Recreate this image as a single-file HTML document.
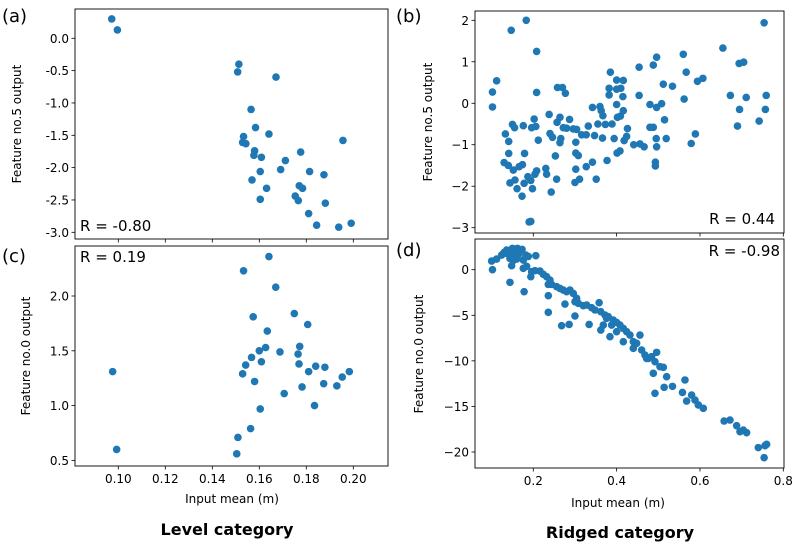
<!DOCTYPE html>
<html><head><meta charset="utf-8"><style>
body{margin:0;background:#fff;width:800px;height:548px;overflow:hidden}
svg{display:block}
text{font-family:"DejaVu Sans","Liberation Sans",sans-serif;fill:#000}
</style></head><body>
<svg id="fig" width="800" height="548" viewBox="0 0 800 548"></svg>
<script>
// Panel (a): Level category, feature 5
const aX=[0.0972,0.0996,0.1513,0.1508,0.1671,0.1565,0.1584,0.1533,0.1529,0.1543,0.1641,0.1580,0.1577,0.1609,0.1711,0.1776,0.1691,0.1604,0.1569,0.1631,0.1814,0.1875,0.1770,0.1784,0.1753,0.1766,0.1604,0.1956,0.1881,0.1810,0.1844,0.1938,0.1991];
const aY=[0.30,0.13,-0.40,-0.52,-0.60,-1.10,-1.38,-1.52,-1.61,-1.63,-1.48,-1.74,-1.81,-1.84,-1.89,-1.76,-2.03,-2.06,-2.19,-2.32,-2.06,-2.11,-2.28,-2.32,-2.44,-2.51,-2.49,-1.58,-2.55,-2.71,-2.89,-2.92,-2.86];
// Panel (c): Level category, feature 0
const cX=[0.1641,0.1533,0.1670,0.1574,0.1749,0.1806,0.1634,0.1772,0.1765,0.1600,0.1627,0.1688,0.1567,0.1609,0.1542,0.1769,0.1840,0.1879,0.1810,0.1983,0.1953,0.1529,0.0976,0.1580,0.1874,0.1930,0.1782,0.1706,0.1835,0.1604,0.1563,0.1509,0.0993,0.1504];
const cY=[2.36,2.23,2.08,1.81,1.84,1.74,1.68,1.54,1.47,1.50,1.53,1.49,1.44,1.40,1.37,1.38,1.36,1.35,1.31,1.31,1.26,1.29,1.31,1.22,1.20,1.18,1.17,1.11,1.00,0.97,0.79,0.71,0.60,0.56];
// Panel (b): Ridged category, feature 5
const bX=[0.183,0.147,0.754,0.208,0.655,0.560,0.496,0.488,0.454,0.385,0.567,0.694,0.705,0.112,0.102,0.208,0.258,0.270,0.277,0.400,0.416,0.382,0.400,0.410,0.382,0.415,0.512,0.534,0.594,0.607,0.454,0.562,0.673,0.711,0.759,0.102,0.400,0.342,0.360,0.363,0.367,0.416,0.409,0.402,0.480,0.496,0.508,0.695,0.757,0.690,0.742,0.238,0.264,0.287,0.202,0.206,0.196,0.176,0.150,0.155,0.257,0.272,0.280,0.296,0.304,0.332,0.355,0.373,0.389,0.426,0.480,0.488,0.515,0.133,0.141,0.212,0.240,0.246,0.266,0.264,0.302,0.316,0.327,0.347,0.366,0.394,0.418,0.424,0.441,0.456,0.466,0.495,0.496,0.519,0.589,0.579,0.141,0.179,0.253,0.302,0.308,0.401,0.408,0.377,0.342,0.327,0.302,0.130,0.140,0.152,0.174,0.166,0.208,0.204,0.230,0.232,0.493,0.493,0.187,0.194,0.256,0.311,0.300,0.351,0.144,0.156,0.161,0.178,0.198,0.173,0.243,0.194,0.190];
const bY=[2.00,1.76,1.94,1.25,1.33,1.18,1.11,0.92,0.87,0.75,0.75,0.96,0.99,0.54,0.27,0.26,0.38,0.38,0.24,0.56,0.55,0.36,0.34,0.36,0.20,0.16,0.46,0.41,0.53,0.60,0.19,0.10,0.19,0.14,0.19,-0.09,-0.03,-0.10,-0.08,-0.18,-0.30,-0.18,-0.31,-0.34,-0.03,-0.10,-0.01,-0.15,-0.15,-0.55,-0.43,-0.27,-0.34,-0.39,-0.38,-0.56,-0.59,-0.54,-0.51,-0.59,-0.46,-0.59,-0.60,-0.62,-0.63,-0.55,-0.50,-0.51,-0.50,-0.61,-0.58,-0.58,-0.40,-0.74,-0.92,-0.89,-0.73,-0.82,-0.85,-0.95,-0.94,-0.76,-0.76,-0.78,-0.84,-0.85,-0.90,-0.80,-1.00,-0.98,-1.05,-0.85,-1.05,-0.85,-0.74,-0.97,-1.21,-1.21,-1.27,-1.20,-1.26,-1.20,-1.15,-1.38,-1.42,-1.53,-1.59,-1.43,-1.50,-1.61,-1.48,-1.53,-1.63,-1.71,-1.57,-1.71,-1.42,-1.51,-1.77,-1.86,-1.83,-1.83,-1.91,-1.83,-1.92,-1.85,-2.06,-1.93,-2.06,-2.24,-2.14,-2.85,-2.86];
// Panel (d): Ridged category, feature 0
const dX=[0.100,0.102,0.112,0.124,0.130,0.136,0.142,0.150,0.156,0.162,0.168,0.173,0.144,0.152,0.160,0.176,0.188,0.206,0.148,0.176,0.184,0.194,0.196,0.204,0.216,0.224,0.232,0.240,0.236,0.244,0.256,0.264,0.272,0.280,0.288,0.296,0.304,0.300,0.308,0.320,0.328,0.340,0.348,0.358,0.362,0.372,0.380,0.392,0.400,0.408,0.416,0.424,0.432,0.440,0.448,0.456,0.460,0.468,0.476,0.484,0.496,0.492,0.504,0.512,0.520,0.488,0.514,0.534,0.492,0.564,0.558,0.568,0.580,0.588,0.596,0.608,0.658,0.672,0.688,0.696,0.704,0.712,0.740,0.756,0.760,0.754,0.144,0.178,0.236,0.276,0.236,0.268,0.286,0.300,0.334,0.362,0.384,0.416,0.440,0.472,0.136,0.152,0.164,0.182,0.376,0.388,0.400,0.368];
const dY=[0.95,0.00,1.17,1.61,1.90,1.79,2.08,2.34,2.16,2.34,2.08,2.23,1.24,1.02,1.17,1.06,1.46,1.54,0.44,0.15,0.37,-0.77,-0.22,-0.11,-0.15,-0.51,-0.77,-1.13,-1.61,-1.61,-1.86,-2.05,-2.23,-2.41,-2.23,-2.60,-3.14,-3.51,-3.69,-3.95,-3.88,-4.17,-4.42,-3.62,-4.61,-4.97,-5.16,-5.52,-5.78,-6.07,-6.44,-6.80,-7.17,-7.90,-8.08,-7.17,-8.81,-9.36,-9.73,-9.54,-9.07,-10.09,-10.64,-10.71,-11.74,-11.37,-12.91,-12.80,-13.56,-12.10,-13.46,-14.41,-13.75,-14.30,-14.84,-15.21,-16.60,-16.49,-17.11,-17.77,-17.59,-17.88,-19.52,-19.31,-19.16,-20.62,-1.39,-2.41,-2.85,-3.77,-4.68,-6.14,-6.00,-5.08,-6.00,-6.62,-7.35,-7.90,-8.63,-9.73,2.16,1.79,1.68,1.61,-5.34,-6.07,-6.80,-6.07];
// Tick values
const levelXTicks=[0.10,0.12,0.14,0.16,0.18,0.20];
const aYTicks=[0.0,-0.5,-1.0,-1.5,-2.0,-2.5,-3.0];
const cYTicks=[0.5,1.0,1.5,2.0];
const ridgedXTicks=[0.2,0.4,0.6,0.8];
const bYTicks=[2,1,0,-1,-2,-3];
const dYTicks=[0,-5,-10,-15,-20];

const NS='http://www.w3.org/2000/svg';
const svg=document.getElementById('fig');
function mk(tag,attrs,parent){const e=document.createElementNS(NS,tag);for(const k in attrs)e.setAttribute(k,attrs[k]);(parent||svg).appendChild(e);return e;}
function lin(d0,d1,p0,p1){return v=>p0+(v-d0)*(p1-p0)/(d1-d0);}
function txt(s,x,y,size,anchor,name,extra){const t=mk('text',Object.assign({x:x,y:y,'font-size':size,'text-anchor':anchor||'start'},extra||{}));t.textContent=s;


return t;}

function panel(o){
  const g=mk('g',{});
  
  
  const sx=o.sx, sy=o.sy;
  const pts=mk('g',{},g);
  
  
  for(let i=0;i<o.xs.length;i++){
    const c=mk('circle',{cx:sx(o.xs[i]).toFixed(2),cy:sy(o.ys[i]).toFixed(2),r:3.8,fill:'#1f77b4'},pts);
    
    
  }
  const fr=mk('rect',{x:o.l,y:o.t,width:o.r-o.l,height:o.b-o.t,fill:'none',stroke:'#000','stroke-width':0.9},g);
  
  
  o.yt.forEach((v,i)=>{const y=sy(v);
    const tk=mk('line',{x1:o.l-3.5,x2:o.l,y1:y,y2:y,stroke:'#000','stroke-width':0.8},g);
    
    
    txt(o.ylab[i],o.l-6,y+4.5,12,'end','y-tick-label');});
  o.xt.forEach((v,i)=>{const x=sx(v);
    const tk=mk('line',{x1:x,x2:x,y1:o.b,y2:o.b+3.5,stroke:'#000','stroke-width':0.8},g);
    
    
    if(o.xlab) txt(o.xlab[i],x,o.b+17,12,'middle','x-tick-label');});
}
const lvX=lin(0.10,0.20,118.3,353.3);
const rdX=lin(0.2,0.8,533.3,783.3);
panel({name:'panel-a',xs:aX,ys:aY,sx:lvX,sy:lin(0,-3,38.3,232.3),l:75,r:388,t:9,b:239,yt:aYTicks,ylab:aYTicks.map(v=>v.toFixed(1)),xt:levelXTicks});
panel({name:'panel-c',xs:cX,ys:cY,sx:lvX,sy:lin(2.0,0.5,296,460.4),l:75,r:388,t:246,b:466,yt:cYTicks,ylab:cYTicks.map(v=>v.toFixed(1)),xt:levelXTicks,xlab:levelXTicks.map(v=>v.toFixed(2))});
panel({name:'panel-b',xs:bX,ys:bY,sx:rdX,sy:lin(2,-3,20.3,227.7),l:475,r:784,t:11,b:233,yt:bYTicks,ylab:bYTicks.map(v=>v<0?'\u2212'+(-v):String(v)),xt:ridgedXTicks});
panel({name:'panel-d',xs:dX,ys:dY,sx:rdX,sy:lin(0,-20,269.7,452),l:475,r:784,t:239,b:468,yt:dYTicks,ylab:dYTicks.map(v=>v<0?'\u2212'+(-v):String(v)),xt:ridgedXTicks,xlab:ridgedXTicks.map(v=>v.toFixed(1))});

txt('(a)',2,22,18,'start','panel-a-label');
txt('(b)',396,22,18,'start','panel-b-label');
txt('(c)',2,262,18,'start','panel-c-label');
txt('(d)',396,256,18,'start','panel-d-label');
txt('R = -0.80',80,231,15,'start','r-value-a');
txt('R = 0.19',80,262,15,'start','r-value-c');
txt('R = 0.44',775,224,15,'end','r-value-b');
txt('R = -0.98',780,256,15,'end','r-value-d');
txt('Feature no.5 output',21,124,12,'middle','y-axis-title-a',{transform:'rotate(-90 21 124)'});
txt('Feature no.0 output',30,356,12,'middle','y-axis-title-c',{transform:'rotate(-90 30 356)'});
txt('Feature no.5 output',432,122,12,'middle','y-axis-title-b',{transform:'rotate(-90 432 122)'});
txt('Feature no.0 output',423,354,12,'middle','y-axis-title-d',{transform:'rotate(-90 423 354)'});
txt('Input mean (m)',232,503,12,'middle','x-axis-title-level');
txt('Input mean (m)',618,507,12,'middle','x-axis-title-ridged');
txt('Level category',227,535,16,'middle','level-category-title',{'font-weight':'bold'});
txt('Ridged category',620,538,16,'middle','ridged-category-title',{'font-weight':'bold'});
</script>
</body></html>
